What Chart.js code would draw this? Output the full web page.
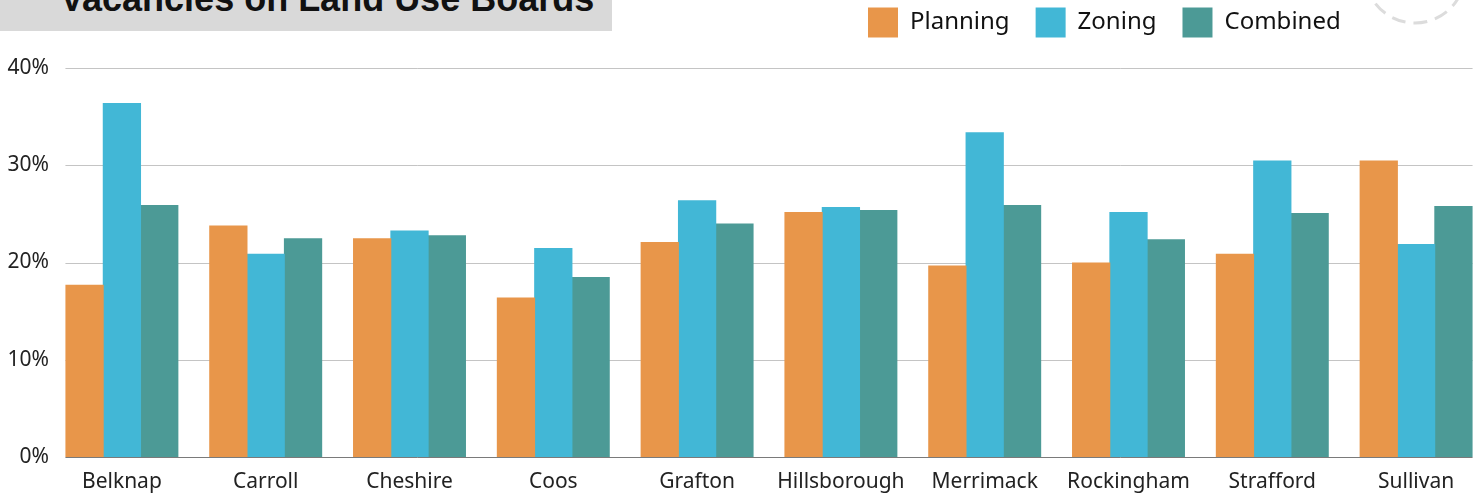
<!DOCTYPE html>
<html>
<head>
<meta charset="utf-8">
<script src="https://cdn.jsdelivr.net/npm/chart.js@4.4.1/dist/chart.umd.min.js"></script>
<style>
html,body{margin:0;padding:0;background:#fff;overflow:hidden;width:1479px;height:495px;}
#wrap{position:absolute;left:0;top:0;width:1488px;height:495px;}
#titlebox{position:absolute;left:0;top:0;width:612px;height:31px;background:#d9d9d9;overflow:hidden;z-index:2;}
#titlebox span{position:absolute;left:60px;top:-19.5px;font:bold 36px "Liberation Sans",Arial,sans-serif;line-height:36px;color:#111;white-space:nowrap;}
#deco{position:absolute;left:1360px;top:0;z-index:2;}
</style>
</head>
<body>
<div id="wrap"><canvas id="c"></canvas></div>
<div id="titlebox"><span>Vacancies on Land Use Boards</span></div>
<svg id="deco" width="110" height="30"><circle cx="55" cy="-27" r="50" fill="none" stroke="#dcdcdc" stroke-width="3" stroke-dasharray="14 8"/></svg>
<script>
const counties = ['Belknap','Carroll','Cheshire','Coos','Grafton','Hillsborough','Merrimack','Rockingham','Strafford','Sullivan'];
const planning = [17.7, 23.8, 22.5, 16.4, 22.1, 25.2, 19.7, 20.0, 20.9, 30.5];
const zoning   = [36.4, 20.9, 23.3, 21.5, 26.4, 25.7, 33.4, 25.2, 30.5, 21.9];
const combined = [25.9, 22.5, 22.8, 18.5, 24.0, 25.4, 25.9, 22.4, 25.1, 25.8];
const yTicks = [0, 10, 20, 30, 40];

const gridPlugin = {
  id: 'customGrid',
  beforeDatasetsDraw(chart) {
    const {ctx, scales: {y}} = chart;
    const m0 = chart.getDatasetMeta(0);
    const mL = chart.getDatasetMeta(chart.data.datasets.length - 1);
    const first = m0.data[0], last = mL.data[mL.data.length - 1];
    const x0 = first.x - first.width / 2, x1 = last.x + last.width / 2;
    ctx.save();
    ctx.lineWidth = 1;
    y.ticks.forEach(t => {
      const py = Math.round(y.getPixelForValue(t.value)) + 0.5;
      ctx.strokeStyle = t.value === 0 ? '#7a7a7a' : '#c4c4c4';
      ctx.beginPath(); ctx.moveTo(x0, py); ctx.lineTo(x1, py); ctx.stroke();
    });
    ctx.restore();
  }
};

const legendShift = {
  id: 'legendShift',
  afterLayout(chart) {
    const lg = chart.legend;
    if (!lg) return;
    const p = lg.options.labels.padding;
    lg.left = 868 - p;
    lg.top = 7.5 - p;
  }
};

new Chart(document.getElementById('c'), {
  type: 'bar',
  data: {
    labels: counties,
    datasets: [
      {label: 'Planning', data: planning, backgroundColor: '#E8964A', borderWidth: 0},
      {label: 'Zoning', data: zoning, backgroundColor: '#42B7D6', borderWidth: 0},
      {label: 'Combined', data: combined, backgroundColor: '#4C9A96', borderWidth: 0}
    ]
  },
  options: {
    responsive: true,
    maintainAspectRatio: false,
    animation: false,
    layout: {padding: {top: 2, left: 0, right: 0, bottom: 0}},
    datasets: {bar: {categoryPercentage: 0.779, barPercentage: 1.025}},
    plugins: {
      tooltip: {enabled: false},
      title: {display: false},
      legend: {
        display: true,
        position: 'top',
        align: 'start',
        labels: {
          boxWidth: 30,
          boxHeight: 30,
          padding: 26,
          color: '#111',
          font: {family: '"Noto Sans", sans-serif', size: 24}
        }
      }
    },
    scales: {
      x: {
        offset: true,
        grid: {display: false, drawTicks: false},
        border: {display: false},
        ticks: {
          padding: 12,
          maxRotation: 0,
          autoSkip: false,
          color: '#222',
          font: {family: '"Noto Sans", sans-serif', size: 21}
        },
        afterFit(s) { s.height = 38; }
      },
      y: {
        min: 0,
        max: 40,
        grid: {display: false, drawTicks: false},
        border: {display: false},
        afterBuildTicks(s) { s.ticks = yTicks.map(v => ({value: v})); },
        ticks: {
          padding: 1,
          color: '#222',
          font: {family: '"Noto Sans", sans-serif', size: 21},
          callback: v => v + '%'
        },
        afterFit(s) { s.width = 50; }
      }
    }
  },
  plugins: [gridPlugin, legendShift]
});
</script>
</body>
</html>
